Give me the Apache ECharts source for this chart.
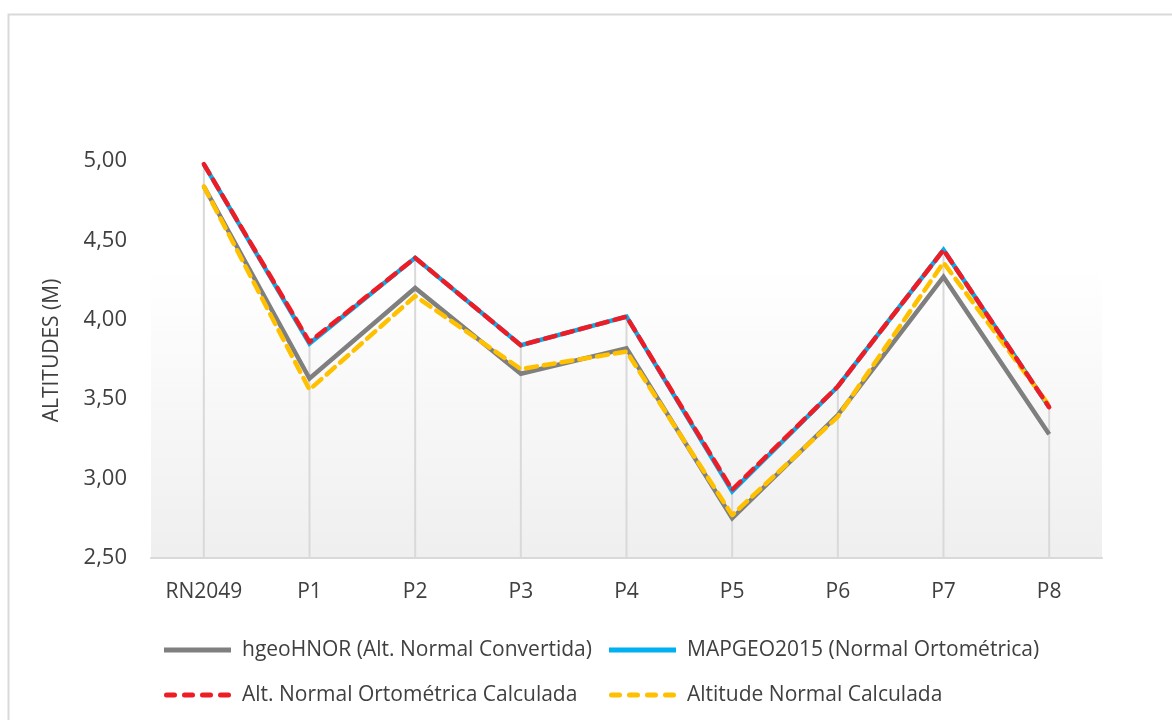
<!DOCTYPE html>
<html>
<head>
<meta charset="utf-8">
<style>
  html, body { margin: 0; padding: 0; background: #ffffff; }
  #chart { width: 1172px; height: 720px; }
</style>
<script src="https://cdn.jsdelivr.net/npm/echarts@6/dist/echarts.min.js"></script>
</head>
<body>
<div id="chart"></div>
<script>
// Survey points along the profile
const categories = ['RN2049', 'P1', 'P2', 'P3', 'P4', 'P5', 'P6', 'P7', 'P8'];

// Altitudes (m) per method
const hgeoHNOR      = [4.84, 3.63, 4.20, 3.66, 3.82, 2.75, 3.40, 4.27, 3.28];
const mapgeo2015    = [4.98, 3.85, 4.39, 3.84, 4.02, 2.92, 3.58, 4.44, 3.45];
const altOrtoCalc   = [4.98, 3.86, 4.39, 3.84, 4.02, 2.93, 3.58, 4.44, 3.45];
const altNormalCalc = [4.84, 3.56, 4.15, 3.69, 3.80, 2.77, 3.39, 4.36, 3.46];

// Value axis ticks
const yTicks = [2.5, 3.0, 3.5, 4.0, 4.5, 5.0];

const names = [
  'hgeoHNOR (Alt. Normal Convertida)',
  'MAPGEO2015 (Normal Ortométrica)',
  'Alt. Normal Ortométrica Calculada',
  'Altitude Normal Calculada'
];
const colors = ['#7f7f7f', '#00b0f0', '#ee1c25', '#ffc000'];

// Drop lines reach the highest of the four values at each point
const dropTop = categories.map((_, i) =>
  Math.max(hgeoHNOR[i], mapgeo2015[i], altOrtoCalc[i], altNormalCalc[i]));

const FONT = '"Open Sans", "Noto Sans", sans-serif';

// Legend keys: a solid bar and a bar of four rounded dashes
const ICON_SOLID = 'path://M0,0H67V5H0Z';
function dashIcon() {
  let d = 'path://';
  for (let k = 0; k < 4; k++) {
    const a = 18 * k + 2.5, b = 18 * k + 10.5;
    d += 'M' + a + ',0H' + b + 'A2.5,2.5 0 0 1 ' + b + ',5H' + a +
         'A2.5,2.5 0 0 1 ' + a + ',0Z';
  }
  return d;
}
const ICON_DASH = dashIcon();

const legendSlots = [
  { left: 164, top: 638 },
  { left: 609, top: 638 },
  { left: 164, top: 683 },
  { left: 609, top: 683 }
];

const chart = echarts.init(document.getElementById('chart'));

chart.setOption({
  animation: false,
  backgroundColor: '#ffffff',
  graphic: [{
    type: 'rect',
    shape: { x: 8.5, y: 14.5, width: 1200, height: 760 },
    style: { fill: 'none', stroke: '#d9d9d9', lineWidth: 2 },
    silent: true
  }],
  grid: {
    left: 151, right: 70, top: 161, bottom: 162,
    show: true,
    borderWidth: 0,
    backgroundColor: {
      type: 'linear', x: 0, y: 0, x2: 0, y2: 1,
      colorStops: [
        { offset: 0, color: '#ffffff' },
        { offset: 0.27, color: '#ffffff' },
        { offset: 1, color: '#efefef' }
      ]
    }
  },
  legend: names.map((n, i) => ({
    data: [{ name: n, icon: i >= 2 ? ICON_DASH : ICON_SOLID }],
    left: legendSlots[i].left, top: legendSlots[i].top,
    padding: 0,
    itemWidth: 67, itemHeight: 5, itemGap: 0,
    textStyle: {
      fontFamily: FONT, fontSize: 21, color: '#404040',
      lineHeight: 24, padding: [0, 0, 0, 6]
    },
    selectedMode: false
  })),
  xAxis: {
    type: 'category',
    data: categories,
    boundaryGap: true,
    axisLine: { lineStyle: { color: '#d9d9d9', width: 2 } },
    axisTick: { show: false },
    axisLabel: { fontFamily: FONT, fontSize: 21, color: '#404040', margin: 24 },
    splitLine: { show: false }
  },
  yAxis: {
    type: 'value',
    min: 2.5, max: 5.0, interval: 0.5,
    name: 'ALTITUDES (M)',
    nameLocation: 'middle',
    nameGap: 88,
    nameRotate: 90,
    nameTextStyle: {
      fontFamily: FONT, fontSize: 21, color: '#404040',
      padding: [0, 0, 0, 18]
    },
    axisLine: { show: false },
    axisTick: { show: false },
    splitLine: { show: false },
    axisLabel: {
      fontFamily: FONT, fontSize: 22, color: '#404040', margin: 24,
      formatter: v => {
        const t = yTicks.find(x => Math.abs(x - v) < 1e-9);
        return t === undefined ? '' : t.toFixed(2).replace('.', ',');
      }
    }
  },
  series: [
    {
      name: 'drop',
      type: 'bar',
      data: dropTop,
      barWidth: 2,
      itemStyle: { color: '#d9d9d9' },
      silent: true,
      z: 1
    },
    {
      name: names[0], type: 'line', data: hgeoHNOR,
      symbol: 'none', z: 3,
      lineStyle: { color: colors[0], width: 4.5, join: 'miter' },
      itemStyle: { color: colors[0] }
    },
    {
      name: names[1], type: 'line', data: mapgeo2015,
      symbol: 'none', z: 4,
      lineStyle: { color: colors[1], width: 4.5, join: 'miter' },
      itemStyle: { color: colors[1] }
    },
    {
      name: names[2], type: 'line', data: altOrtoCalc,
      symbol: 'none', z: 6,
      lineStyle: { color: colors[2], width: 4.5, type: [11, 7], cap: 'round', join: 'round' },
      itemStyle: { color: colors[2] }
    },
    {
      name: names[3], type: 'line', data: altNormalCalc,
      symbol: 'none', z: 5,
      lineStyle: { color: colors[3], width: 4.5, type: [11, 7], cap: 'round', join: 'round' },
      itemStyle: { color: colors[3] }
    }
  ]
});
</script>
</body>
</html>
